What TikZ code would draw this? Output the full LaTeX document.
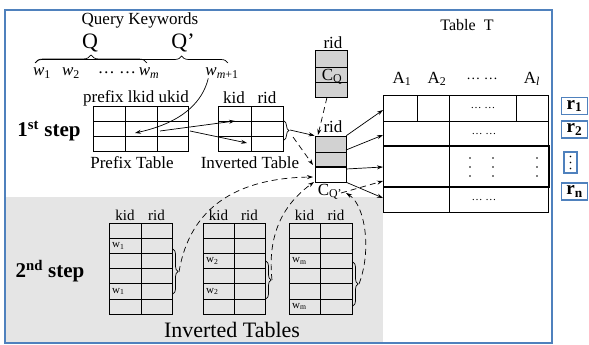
\documentclass[tikz,border=0pt]{standalone}
\usepackage{fontspec}
\setmainfont{Liberation Serif}
\usetikzlibrary{arrows.meta,decorations.pathreplacing,calc}
\definecolor{framecol}{RGB}{79,129,189}
\newcommand\fsz[1]{\fontsize{#1}{#1}\selectfont}
\tikzset{
  tbl/.style={draw, line width=0.7pt, inner sep=0pt},
  grid/.style={line width=0.7pt},
  lbl/.style={inner sep=0pt, font=\fsz{17}},
  cell/.style={inner sep=0pt, anchor=west, font=\fsz{11}},
  arr/.style={-{Stealth[length=6pt,width=4pt]}, line width=0.7pt},
  dasharr/.style={arr, dash pattern=on 6pt off 4pt},
  bracedeco/.style={decorate, decoration={brace, amplitude=5pt}, line width=0.7pt},
  rbox/.style={draw=framecol, line width=1.5pt, inner sep=0pt, minimum width=26pt, minimum height=17pt, font=\fsz{19}\bfseries},
  vdot/.style={fill, radius=0.9pt},
}
\begin{document}
\begin{tikzpicture}[x=1pt,y=-1pt]
\useasboundingbox (0,0) rectangle (589,345);
\fill[white] (0,0) rectangle (589,345);
% shaded band of the second step
\fill[gray!20] (5.75,197) rectangle (383,342.25);
\draw[framecol,line width=1.5pt] (5,10) rectangle (552,343);

% ---------- query keywords ----------
\node[lbl] (qk) at (140,20) {Query Keywords};
\node[lbl,font=\fsz{22}] (q) at (90,43) {Q};
\node[lbl,font=\fsz{22}] (qp) at (183,43) {Q'};
\draw[decorate,decoration={brace,amplitude=8pt,aspect=0.5},line width=0.7pt] (35,63) -- (147,63);
\draw[decorate,decoration={brace,amplitude=7pt,aspect=0.76},line width=0.7pt] (35,63) -- (228,63);
\node[lbl] (w1) at (42,73) {\textit{w}\textsubscript{1}};
\node[lbl] (w2) at (71,73) {\textit{w}\textsubscript{2}};
\node[lbl] (wdots) at (117,73) {\dots\ \dots};
\node[lbl] (wm) at (149,73) {\textit{w}\textsubscript{\textit{m}}};
\node[lbl] (wm1) at (222,73) {\textit{w}\textsubscript{\textit{m}+1}};

% ---------- first step ----------
\node[lbl,font=\fsz{21}\bfseries] (step1) at (49,131) {1\textsuperscript{st} step};

% prefix table
\node[lbl] (pfxhead) at (136,98) {prefix lkid ukid};
\node[tbl,minimum width=95pt,minimum height=45pt] (prefix) at (140.5,128.5) {};
\draw[grid] (125,106) -- (125,151) (157,106) -- (157,151)
            (93,121) -- (188,121) (93,136) -- (188,136);
\node[lbl] (pfxlab) at (132,163) {Prefix Table};

% inverted table of the first step
\node[lbl] (ikid) at (234,98) {kid};
\node[lbl] (irid) at (267,98) {rid};
\node[tbl,minimum width=65pt,minimum height=45pt] (inv) at (250.5,128.5) {};
\draw[grid] (251,106) -- (251,151) (218,121) -- (283,121) (218,136) -- (283,136);
\node[lbl] (invlab) at (250,163) {Inverted Table};
\draw[bracedeco] (284,121) -- (284,140);
\coordinate (invtip) at (290,130);

% C_Q table
\node[lbl] (cqhead) at (333,43) {rid};
\node[tbl,fill=gray!35,minimum width=32pt,minimum height=47pt] (cq) at (331,73.5) {};
\draw[grid] (315,67) -- (347,67) (315,82) -- (347,82);
\node[lbl] (cqlab) at (332,77) {C\textsubscript{Q}};

% C_Q' table
\node[lbl] (cqphead) at (333,127) {rid};
\node[tbl,minimum width=31pt,minimum height=46pt] (cqp) at (330.5,159) {};
\fill[gray!35] (315,136) rectangle (346,167);
\draw[grid] (315,136) rectangle (346,182);
\draw[grid] (315,152) -- (346,152);
\draw[line width=1.1pt] (315,167) -- (346,167);
\node[lbl] (cqplab) at (330,192) {C\textsubscript{Q'}};

% ---------- table T ----------
\node[lbl,font=\fsz{16}] (ttitle) at (467,25) {Table\enspace T};
\node[lbl] (a1) at (402,79) {A\textsubscript{1}};
\node[lbl] (a2) at (437,79) {A\textsubscript{2}};
\node[lbl,font=\fsz{14}] (adots) at (482,79) {\dots\ \dots};
\node[lbl] (al) at (532,79) {A\textsubscript{\textit{l}}};
\node[tbl,minimum width=165pt,minimum height=117pt] (tabT) at (465.5,153.5) {};
\draw[grid] (383,121) -- (548,121) (449,95) -- (449,212)
            (417,95) -- (417,121) (516,95) -- (516,121);
\draw[line width=1.1pt] (383,146) -- (549,146) -- (549,187) -- (383,187);
\node[lbl,font=\fsz{11}] (td1) at (483,108) {\dots\ \dots};
\node[lbl,font=\fsz{11}] (td2) at (484,134) {\dots\ \dots};
\node[lbl,font=\fsz{11}] (td4) at (484,200) {\dots\ \dots};
% columns of vertical dots in the third row
\foreach \xx in {470,493,537}{
  \foreach \yy in {158,167,176}{\fill[vdot] (\xx,\yy) circle;}
}

% result rows beside the frame
\node[rbox] (r1) at (574.5,106) {r\textsubscript{1}};
\node[rbox] (r2) at (574.5,129.5) {r\textsubscript{2}};
\node[rbox,minimum width=13pt,minimum height=21pt] (rv) at (570.5,162.5) {};
\foreach \yy in {156.5,162.5,168.5}{\fill[vdot] (570.5,\yy) circle;}
\node[rbox] (rn) at (574.5,191.5) {r\textsubscript{n}};

% ---------- second step ----------
\node[lbl,font=\fsz{21}\bfseries] (step2) at (50,271) {2\textsuperscript{nd} step};
\foreach \l/\m/\r/\n in {109/141/172/ta, 203/234/265/tb, 289/320/352/tc}{
  \node[tbl,minimum width={\r-\l},minimum height=91pt] (\n) at ({(\l+\r)/2},268.5) {};
  \draw[grid] (\m,223) -- (\m,314);
  \foreach \k in {1,...,5}{\draw[grid] (\l,223+\k*15.17) -- (\r,223+\k*15.17);}
  \node[lbl,font=\fsz{15}] (\n kid) at ({(\l+\m)/2},215) {kid};
  \node[lbl,font=\fsz{15}] (\n rid) at ({(\m+\r)/2},215) {rid};
}
\node[cell] (ta2) at (112,245.8) {w\textsubscript{1}};
\node[cell] (ta5) at (112,291.3) {w\textsubscript{1}};
\node[cell] (tb3) at (206,261) {w\textsubscript{2}};
\node[cell] (tb5) at (206,291.3) {w\textsubscript{2}};
\node[cell] (tc3) at (292,261) {w\textsubscript{m}};
\node[cell] (tc6) at (292,306.5) {w\textsubscript{m}};
\draw[bracedeco] (173,249) -- (173,294);
\draw[bracedeco] (266,261) -- (266,299);
\draw[bracedeco] (353,262) -- (353,306);
\coordinate (tatip) at (179,272);
\coordinate (tbtip) at (272,280);
\coordinate (tctip) at (359,284);
\node[lbl,font=\fsz{22}] (invtabs) at (232,330) {Inverted Tables};

% ---------- connectors ----------
\coordinate (pfxin) at (135,133);
\coordinate (pfxout1) at (160,131);
\coordinate (pfxout2) at (190,131);
\coordinate (invin1) at (235,121);
\coordinate (invin2) at (247,143);
\draw[arr] ([xshift=3pt]wm1.south west) .. controls (203,100) and (185,122) .. (pfxin);
\draw[arr] (pfxout1) -- (invin1);
\draw[arr] (pfxout2) -- (invin2);
\draw[arr] (invtip) -- (cqp.north west);
\draw[dasharr] (293,137) -- (313,165);
\draw[dasharr] (cq.south) ++(-4,0) -- (318,135);
% from the inverted tables up to C_Q'
\draw[dasharr] (tatip) .. controls (190,205) and (240,178) .. (313,177);
\draw[dasharr] (tbtip) .. controls (266,225) and (292,198) .. (314,182);
\draw[dasharr] (tctip) .. controls (372,250) and (365,205) .. (346,193);
% from C_Q' into table T
\draw[arr] (cqp.north east) -- (383,110);
\draw[arr] (346,150) -- (383,135);
\draw[arr] (346,169) -- (383,167);
\draw[arr] (cqp.south east) -- (383,198);
\draw[dasharr] (341,193) -- (383,181);
\end{tikzpicture}
\end{document}
